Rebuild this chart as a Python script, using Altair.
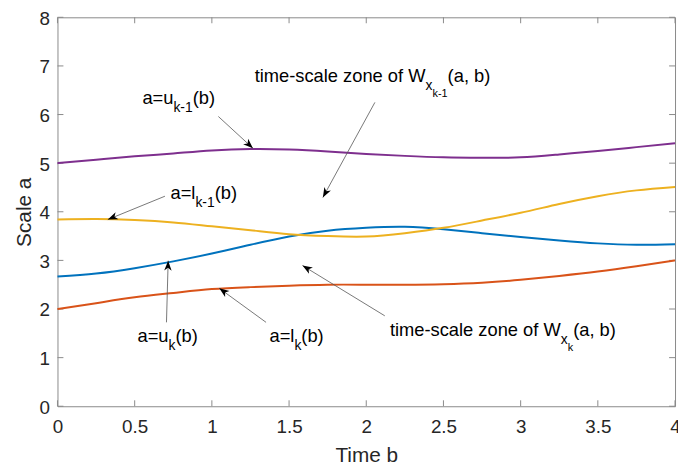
import math
import altair as alt
import pandas as pd

# ---------------- data ----------------
B = [0, 0.25, 0.5, 0.75, 1.0, 1.25, 1.5, 1.75, 2.0, 2.25, 2.5, 2.75, 3.0, 3.25, 3.5, 3.75, 4.0]
U_CUR = [2.67, 2.73, 2.84, 2.98, 3.14, 3.32, 3.49, 3.61, 3.67, 3.69, 3.64, 3.56, 3.48, 3.41, 3.35, 3.32, 3.33]
L_CUR = [2.00, 2.12, 2.24, 2.33, 2.41, 2.45, 2.48, 2.50, 2.50, 2.50, 2.51, 2.54, 2.60, 2.68, 2.77, 2.88, 3.00]
L_PREV = [3.84, 3.85, 3.83, 3.78, 3.70, 3.62, 3.54, 3.50, 3.49, 3.56, 3.67, 3.82, 3.98, 4.16, 4.32, 4.44, 4.51]
U_PREV = [5.00, 5.07, 5.14, 5.20, 5.26, 5.29, 5.28, 5.24, 5.19, 5.15, 5.12, 5.11, 5.12, 5.18, 5.25, 5.33, 5.41]

SERIES = [("u_k", U_CUR, "#0072BD"), ("l_k", L_CUR, "#D95319"),
          ("l_k-1", L_PREV, "#EDB120"), ("u_k-1", U_PREV, "#7E2F8E")]

X_TICKS = [0, 0.5, 1, 1.5, 2, 2.5, 3, 3.5, 4]
Y_TICKS = [0, 1, 2, 3, 4, 5, 6, 7, 8]

# annotation texts: anchor (b, a) and pieces (text, level: 0 main, 1 sub, 2 sub-sub)
ANN_ANCHOR_B = [0.55, 1.277, 0.732, 0.518, 1.373, 2.153]
ANN_ANCHOR_A = [6.22, 6.66, 4.27, 1.32, 1.32, 1.45]
ANN_PIECES = [
    [("a=u", 0), ("k-1", 1), ("(b)", 0)],
    [("time-scale zone of W", 0), ("x", 1), ("k-1", 2), ("(a, b)", 0)],
    [("a=l", 0), ("k-1", 1), ("(b)", 0)],
    [("a=u", 0), ("k", 1), ("(b)", 0)],
    [("a=l", 0), ("k", 1), ("(b)", 0)],
    [("time-scale zone of W", 0), ("x", 1), ("k", 2), ("(a, b)", 0)],
]

# arrows: start (b, a) -> tip (b, a)
ARR_B0 = [1.042, 2.056, 0.696, 0.706, 1.351, 2.120]
ARR_A0 = [5.96, 6.25, 4.32, 1.726, 1.726, 1.860]
ARR_B1 = [1.266, 1.719, 0.326, 0.717, 1.048, 1.587]
ARR_A1 = [5.306, 4.294, 3.840, 2.994, 2.426, 2.894]

# ---------------- layout ----------------
W, H = 624, 393
PX_B = W / 4.0
PX_A = H / 8.0
FONT = "Liberation Sans"
LEVEL_SIZE = {0: 18.5, 1: 14, 2: 11}
LEVEL_DY = {0: 0, 1: 8, 2: 15}
CW = {"a": 556, "=": 584, "u": 556, "l": 222, "k": 500, "-": 333, "1": 556, "(": 333,
      ")": 333, "b": 556, "t": 278, "i": 222, "m": 833, "e": 556, "s": 500, "c": 500,
      "z": 500, "o": 556, "n": 556, "f": 278, "W": 944, "x": 500, " ": 278, ",": 278}


def text_width(s, fs):
    return sum(CW.get(ch, 556) for ch in s) / 1000.0 * fs


xs = alt.Scale(domain=[0, 4], nice=False, zero=False)
ys = alt.Scale(domain=[0, 8], nice=False, zero=False)
GREY = "#8a8a8a"
TXT = "#262626"

layers = []

# axes carrier (labels + titles)
axis_df = pd.DataFrame({"b": [0, 4], "a": [0, 8]})
axes = alt.Chart(axis_df).mark_point(opacity=0).encode(
    x=alt.X("b:Q", scale=xs, title="Time b",
            axis=alt.Axis(values=X_TICKS, format="~g", grid=False, ticks=False, domain=False,
                          labelFontSize=19, labelColor=TXT, labelFont=FONT, labelPadding=12,
                          labelFlush=False, labelOverlap=False,
                          titleFontSize=21, titleFont=FONT, titleFontWeight="normal",
                          titleColor=TXT, titlePadding=8)),
    y=alt.Y("a:Q", scale=ys, title="Scale a",
            axis=alt.Axis(values=Y_TICKS, format="~g", grid=False, ticks=False, domain=False,
                          labelFontSize=19, labelColor=TXT, labelFont=FONT, labelPadding=8,
                          labelOffset=1, labelFlush=False, labelOverlap=False,
                          titleFontSize=21, titleFont=FONT, titleFontWeight="normal",
                          titleColor=TXT, titlePadding=5)),
)
layers.append(axes)

# inward ticks
xt = pd.DataFrame({"b": X_TICKS})
yt = pd.DataFrame({"a": Y_TICKS})
layers.append(alt.Chart(xt).mark_rule(color=GREY, strokeWidth=1).encode(
    x=alt.X("b:Q", scale=xs), y=alt.value(H), y2=alt.value(H - 6)))
layers.append(alt.Chart(xt).mark_rule(color=GREY, strokeWidth=1).encode(
    x=alt.X("b:Q", scale=xs), y=alt.value(0), y2=alt.value(6)))
layers.append(alt.Chart(yt).mark_rule(color=GREY, strokeWidth=1).encode(
    y=alt.Y("a:Q", scale=ys), x=alt.value(0), x2=alt.value(6)))
layers.append(alt.Chart(yt).mark_rule(color=GREY, strokeWidth=1).encode(
    y=alt.Y("a:Q", scale=ys), x=alt.value(W), x2=alt.value(W - 6)))

# curves
for name, vals, col in SERIES:
    df = pd.DataFrame({"b": B, "a": vals})
    layers.append(alt.Chart(df).mark_line(color=col, strokeWidth=2, interpolate="natural").encode(
        x=alt.X("b:Q", scale=xs), y=alt.Y("a:Q", scale=ys)))

# arrows
arr = pd.DataFrame({"b0": ARR_B0, "a0": ARR_A0, "b1": ARR_B1, "a1": ARR_A1})
arr["ang"] = [
    (math.degrees(math.atan2(-(a1 - a0) * PX_A, (b1 - b0) * PX_B)) + 360) % 360
    for b0, a0, b1, a1 in zip(ARR_B0, ARR_A0, ARR_B1, ARR_A1)
]
layers.append(alt.Chart(arr).mark_rule(color="#555555", strokeWidth=0.8).encode(
    x=alt.X("b0:Q", scale=xs), y=alt.Y("a0:Q", scale=ys), x2="b1:Q", y2="a1:Q"))
HEAD = "M0,0 L-4,-1.5 L-2.9,0 L-4,1.5 Z"
layers.append(alt.Chart(arr).mark_point(shape=HEAD, filled=True, color="black", opacity=1,
                                        size=25, strokeWidth=0.5).encode(
    x=alt.X("b1:Q", scale=xs), y=alt.Y("a1:Q", scale=ys),
    angle=alt.Angle("ang:Q", scale=None)))

# annotation texts
rows = []
for ab, aa, pieces in zip(ANN_ANCHOR_B, ANN_ANCHOR_A, ANN_PIECES):
    off = 0.0
    for s, lev in pieces:
        fs = LEVEL_SIZE[lev]
        rows.append({"b": ab + off / PX_B, "a": aa - LEVEL_DY[lev] / PX_A, "t": s, "fs": fs})
        off += text_width(s, fs)
tdf = pd.DataFrame(rows)
layers.append(alt.Chart(tdf).mark_text(align="left", baseline="alphabetic", font=FONT,
                                       color="black").encode(
    x=alt.X("b:Q", scale=xs), y=alt.Y("a:Q", scale=ys), text="t:N",
    size=alt.Size("fs:Q", scale=None)))

chart = alt.layer(*layers).properties(
    width=W, height=H,
    autosize=alt.AutoSizeParams(type="none"),
    padding={"left": 50, "top": 7, "right": 3, "bottom": 60},
).configure_view(stroke=GREY, strokeWidth=1)

chart.save("out.html", embed_options={"renderer": "svg", "actions": False})
